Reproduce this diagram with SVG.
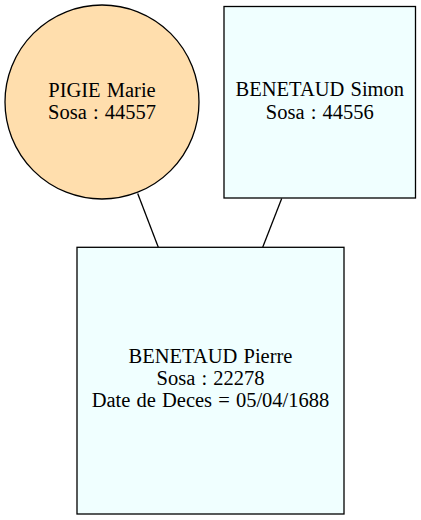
<svg xmlns="http://www.w3.org/2000/svg" width="421" height="520" viewBox="0 0 421 520">
<style>
text { font-family: "Liberation Serif", "Times New Roman", serif; font-size: 20.5px; word-spacing: 1px; fill: #000; text-anchor: middle; }
.node { stroke: #000; stroke-width: 1.3; }
.edge { stroke: #000; stroke-width: 1.3; fill: none; }
</style>
<rect x="0" y="0" width="421" height="520" fill="#fff"/>
<g id="connectors">
<line class="edge" x1="137.7" y1="193.5" x2="158.3" y2="247.3"/>
<line class="edge" x1="281.7" y1="198.5" x2="262.7" y2="247.3"/>
</g>
<g id="pigie-marie">
<circle class="node" cx="102" cy="102" r="97" fill="#ffdead"/>
<text x="102" y="96.5">PIGIE Marie</text>
<text x="102" y="118.5">Sosa : 44557</text>
</g>
<g id="benetaud-simon">
<rect class="node" x="224" y="6.5" width="191.5" height="191.5" fill="#f0ffff"/>
<text x="319.8" y="96">BENETAUD Simon</text>
<text x="319.8" y="118.5">Sosa : 44556</text>
</g>
<g id="benetaud-pierre">
<rect class="node" x="77" y="247.3" width="267" height="266.7" fill="#f0ffff"/>
<text x="210.5" y="362.7">BENETAUD Pierre</text>
<text x="210.5" y="384.7">Sosa : 22278</text>
<text x="210.5" y="406.5">Date de Deces = 05/04/1688</text>
</g>
</svg>
